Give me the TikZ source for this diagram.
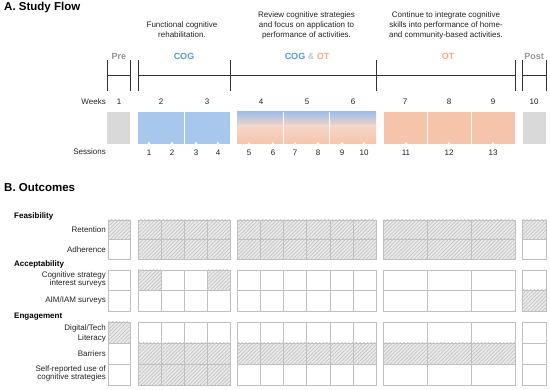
\documentclass[tikz,border=0pt]{standalone}
\usepackage{fontspec}
\setmainfont{Liberation Sans}
\usetikzlibrary{patterns.meta}
\definecolor{cogblue}{RGB}{168,199,236}
\definecolor{cogblueT}{RGB}{160,190,232}
\definecolor{lightpeach}{RGB}{246,214,200}
\definecolor{otpeach}{RGB}{246,196,170}
\definecolor{pregray}{RGB}{217,217,217}
\definecolor{cogtext}{RGB}{91,152,212}
\definecolor{ottext}{RGB}{244,170,130}
\definecolor{pretext}{RGB}{150,150,150}
\definecolor{ampgray}{RGB}{200,200,200}
\definecolor{gridgray}{RGB}{192,192,192}
\definecolor{hatchfill}{RGB}{234,234,234}
\definecolor{hatchline}{RGB}{196,196,196}
\definecolor{txt}{RGB}{35,35,35}
\definecolor{axis}{RGB}{50,50,50}
\begin{document}
\begin{tikzpicture}[x=1pt,y=-1pt,
  lbl/.style={font=\fontsize{8}{9}\selectfont, text=txt, inner sep=0pt},
  desc/.style={lbl, align=center, font=\fontsize{8}{10}\selectfont},
  head/.style={font=\bfseries\fontsize{9}{10}\selectfont, inner sep=0pt},
  title/.style={font=\bfseries\fontsize{11.5}{13}\selectfont, anchor=west, inner sep=0pt, text=black},
  cat/.style={font=\bfseries\fontsize{8}{9}\selectfont, anchor=west, inner sep=0pt, text=black},
  rowlbl/.style={lbl, anchor=east, align=right},
  cell/.style={draw=gridgray, line width=0.8pt},
  hatch/.style={fill=hatchfill, postaction={pattern={Lines[angle=45,distance=2.6pt,line width=0.7pt]}, pattern color=hatchline}},
  tl/.style={draw=axis, line width=0.8pt},
  divider/.style={draw=white, line width=1pt}
]
\useasboundingbox (0,0) rectangle (550,390);
% ---------- A. Study Flow ----------
\node[title] (tA) at (4,8) {A. Study Flow};
\node[desc] (d1) at (182,30) {Functional cognitive\\rehabilitation.};
\node[desc] (d2) at (306.5,25) {Review cognitive strategies\\and focus on application to\\performance of activities.};
\node[desc] (d3) at (446,25) {Continue to integrate cognitive\\skills into performance of home-\\and community-based activities.};
\node[head, text=pretext] (hPre) at (119,56) {Pre};
\node[head, text=cogtext] (hCog) at (184,56) {COG};
\node[head] (hCo) at (307,56) {\textcolor{cogtext}{COG} \textcolor{ampgray}{\&} \textcolor{ottext}{OT}};
\node[head, text=ottext] (hOt) at (448,56) {OT};
\node[head, text=pretext] (hPost) at (534,56) {Post};
% timeline
\draw[tl] (107,75) -- (130,75);
\draw[tl] (138,75) -- (515,75);
\draw[tl] (522,75) -- (546,75);
\foreach \x in {107,130,138,230,376,515,522,546}
  \draw[tl] (\x,60) -- (\x,91);
% weeks
\node[lbl, anchor=east] (weeks) at (106,102) {Weeks};
\foreach \x [count=\i] in {119,161,207,261,307,353,405,449,493,534}
  \node[lbl] (w\i) at (\x,102) {\i};
% boxes
\fill[pregray] (107,112) rectangle (130,144);
\fill[cogblue] (138,112) rectangle (230,144);
\shade[top color=cogblueT, bottom color=lightpeach] (237,112) rectangle (376,126.5);
\shade[top color=lightpeach, bottom color=otpeach] (237,126) rectangle (376,144);
\fill[otpeach] (384,112) rectangle (515,144);
\fill[pregray] (523,112) rectangle (546,144);
\foreach \x in {184,283.7,329.9,427.3,471.2}
  \draw[divider] (\x,112) -- (\x,144);
% sessions
\node[lbl, anchor=east] (sessions) at (106,152) {Sessions};
\foreach \x [count=\i] in {149,172,196,218,249,273,295,318,342,364,406,449,493}{
  \fill[white] (\x-1.6,144.2) -- (\x,141.6) -- (\x+1.6,144.2) -- cycle;
  \node[lbl] (s\i) at (\x,152.5) {\i};
}
% ---------- B. Outcomes ----------
\node[title] (tB) at (4,188) {B. Outcomes};
\node[cat] (cF) at (14,216) {Feasibility};
\node[cat] (cA) at (14,264.5) {Acceptability};
\node[cat] (cE) at (14,317) {Engagement};
\node[rowlbl] (r1) at (106,230) {Retention};
\node[rowlbl] (r2) at (106,250) {Adherence};
\node[rowlbl, font=\fontsize{8}{8.2}\selectfont] (r3) at (106,279.5) {Cognitive strategy\\interest surveys};
\node[rowlbl] (r4) at (106,300.5) {AIM/IAM surveys};
\node[rowlbl, font=\fontsize{8}{10}\selectfont] (r5) at (106,333) {Digital/Tech\\Literacy};
\node[rowlbl] (r6) at (106,354) {Barriers};
\node[rowlbl, font=\fontsize{8}{8.6}\selectfont] (r7) at (106,373.5) {Self-reported use of\\cognitive strategies};
\def\collist{108/130,138/161,161/184,184/207,207/230,237.5/260.6,260.6/283.7,283.7/306.8,306.8/329.9,329.9/353,353/376,383.5/427.3,427.3/471.2,471.2/515,522.5/546}
\foreach \a/\b [count=\i] in \collist {%
  \expandafter\xdef\csname cL\i\endcsname{\a}%
  \expandafter\xdef\csname cR\i\endcsname{\b}}
\newcommand\hcell[3]{\path[hatch] (\csname cL#3\endcsname,#1) rectangle (\csname cR#3\endcsname,#2);}
\foreach \c in {1,...,15} {\hcell{220}{239}{\c}}
\foreach \c in {2,...,14} {\hcell{239}{259}{\c}}
\foreach \c in {2,5} {\hcell{270}{290}{\c}}
\hcell{290}{311}{15}
\hcell{322}{343}{1}
\foreach \c in {2,...,14} {\hcell{343}{364}{\c}}
\foreach \c in {2,...,5} {\hcell{364}{385}{\c}}
\foreach \a/\b in \collist {
  \foreach \t/\u in {220/239,239/259,270/290,290/311,322/343,343/364,364/385}
    \draw[cell] (\a,\t) rectangle (\b,\u);
}
\end{tikzpicture}
\end{document}
